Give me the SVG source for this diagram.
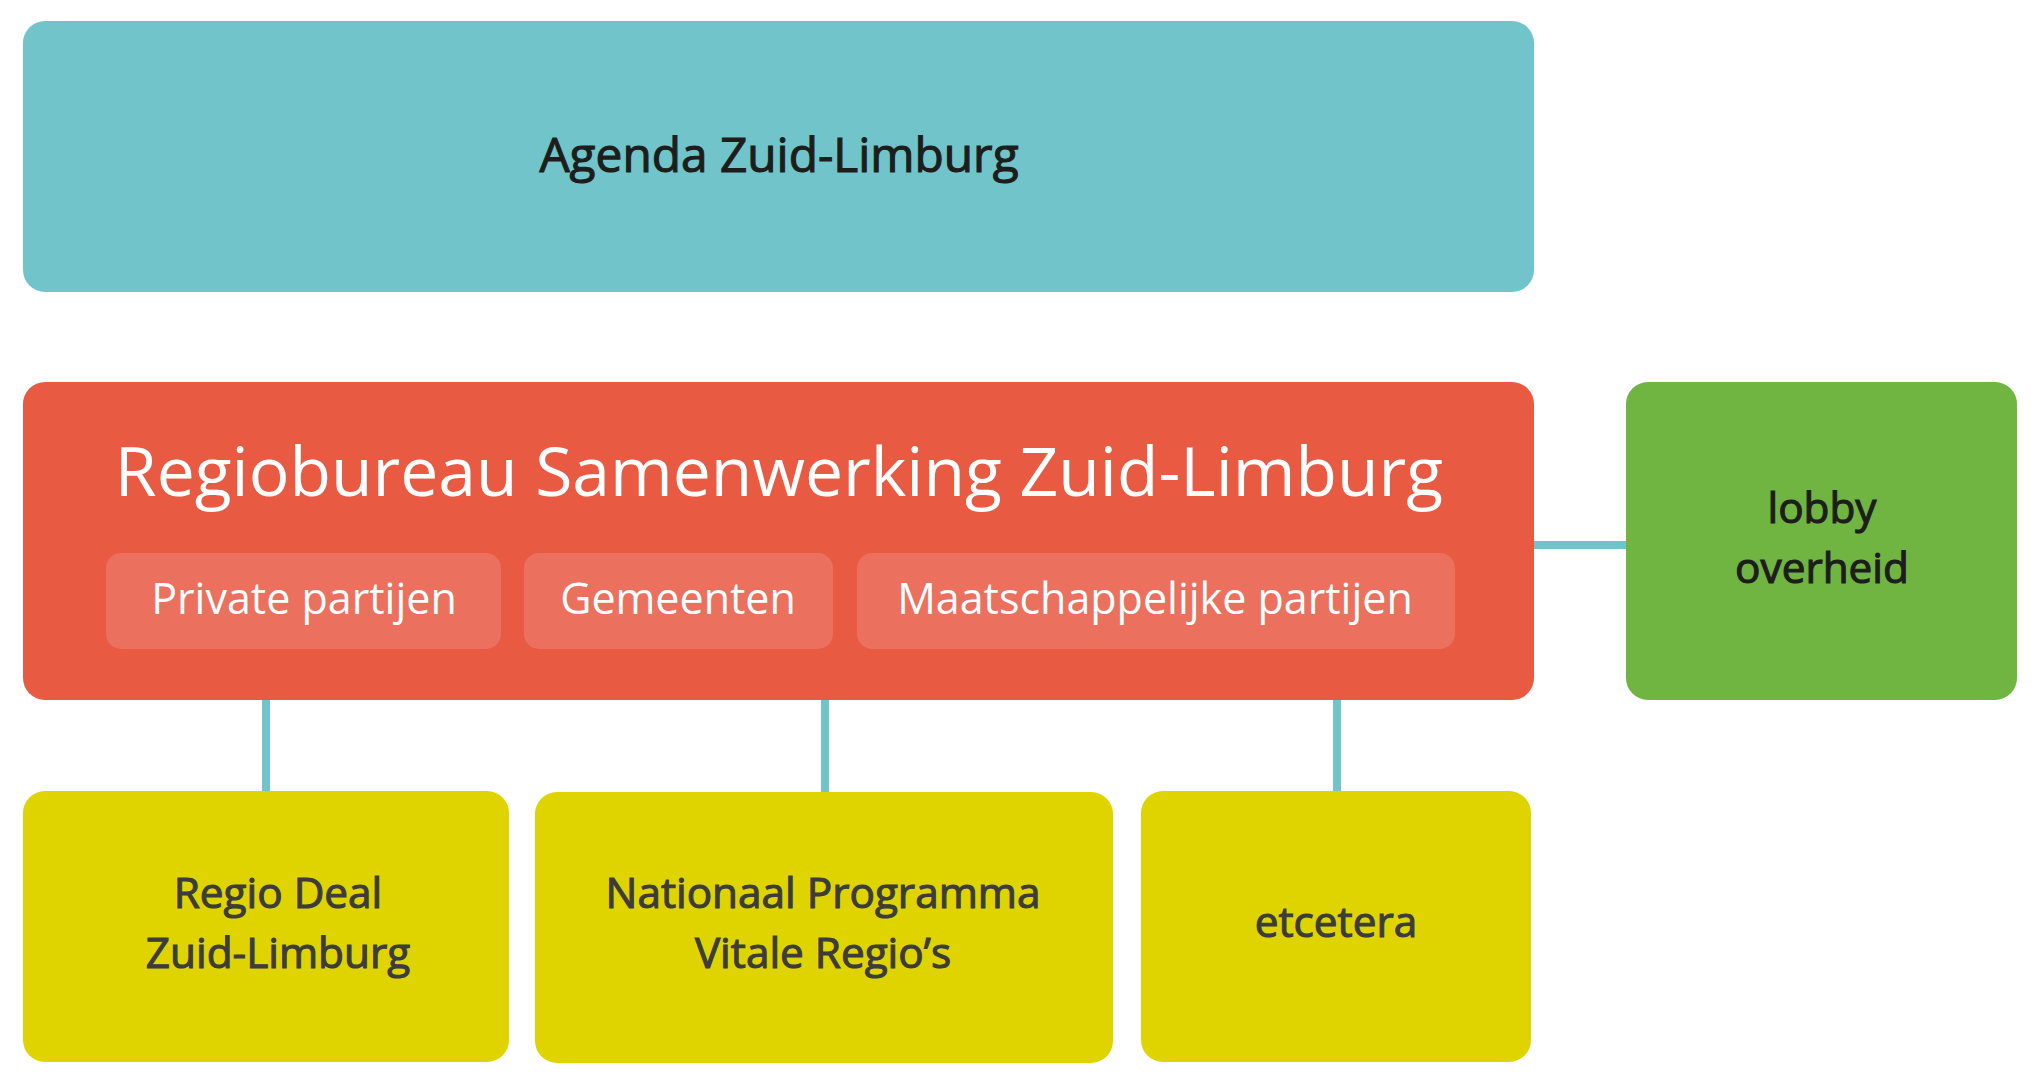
<svg xmlns="http://www.w3.org/2000/svg" width="2040" height="1086" viewBox="0 0 2040 1086">
<style>
text{font-family:"Open Sans","Noto Sans","Liberation Sans",sans-serif;text-anchor:middle}
.teal{fill:#70c4ca}
.red{fill:#e85a42}
.sub{fill:#eb705e}
.green{fill:#70b442}
.yellow{fill:#dfd400}
.conn{stroke:#70c4ca;stroke-width:8;fill:none}
.dark{fill:#1d1d1b;stroke:#1d1d1b;stroke-width:1.1px}
.gray{fill:#3c3c3b;stroke:#3c3c3b;stroke-width:1.1px;font-size:42.3px}
.white{fill:#ffffff}
.subt{fill:#ffffff;font-size:43px}
</style>
<g id="connectors">
<line class="conn" x1="1534" y1="545" x2="1626" y2="545"/>
<line class="conn" x1="266" y1="700" x2="266" y2="792"/>
<line class="conn" x1="825" y1="700" x2="825" y2="793"/>
<line class="conn" x1="1337" y1="700" x2="1337" y2="792"/>
</g>
<g id="agenda">
<rect class="teal" x="23" y="21" width="1511" height="271" rx="22"/>
<text class="dark" x="779" y="172" font-size="47.8">Agenda Zuid-Limburg</text>
</g>
<g id="regiobureau">
<rect class="red" x="23" y="382" width="1511" height="318" rx="22"/>
<text class="white" x="779" y="496" font-size="67.8">Regiobureau Samenwerking Zuid-Limburg</text>
</g>
<g id="private">
<rect class="sub" x="106" y="553" width="395" height="96" rx="15"/>
<text class="subt" x="304" y="614">Private partijen</text>
</g>
<g id="gemeenten">
<rect class="sub" x="524" y="553" width="309" height="96" rx="15"/>
<text class="subt" x="678" y="614" font-size="42">Gemeenten</text>
</g>
<g id="maatschappelijk">
<rect class="sub" x="857" y="553" width="598" height="96" rx="15"/>
<text class="subt" x="1155" y="614">Maatschappelijke partijen</text>
</g>
<g id="lobby">
<rect class="green" x="1626" y="382" width="391" height="318" rx="22"/>
<text class="dark" x="1822" y="523" font-size="42.3">lobby</text>
<text class="dark" x="1822" y="583" font-size="42.3">overheid</text>
</g>
<g id="regiodeal">
<rect class="yellow" x="23" y="791" width="486" height="271" rx="22"/>
<text class="gray" x="278" y="908">Regio Deal</text>
<text class="gray" x="278" y="968">Zuid-Limburg</text>
</g>
<g id="nationaal">
<rect class="yellow" x="535" y="792" width="578" height="271" rx="22"/>
<text class="gray" x="823" y="908">Nationaal Programma</text>
<text class="gray" x="823" y="968">Vitale Regio’s</text>
</g>
<g id="etcetera">
<rect class="yellow" x="1141" y="791" width="390" height="271" rx="22"/>
<text class="gray" x="1336" y="937">etcetera</text>
</g>
</svg>
